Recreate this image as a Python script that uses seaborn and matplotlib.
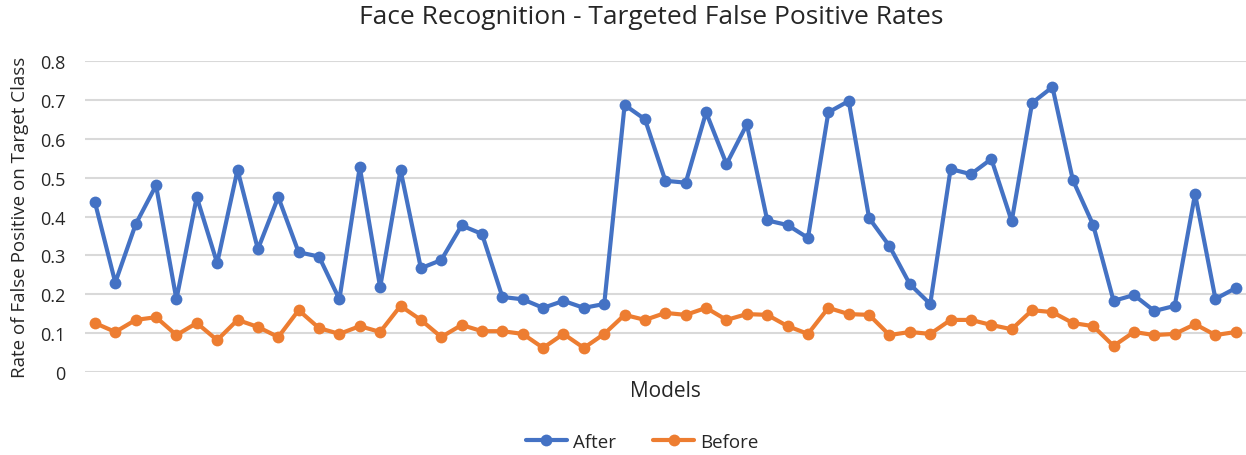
import numpy as np
import pandas as pd
import matplotlib
matplotlib.use("Agg")
import matplotlib.pyplot as plt
import seaborn as sns
from matplotlib.ticker import FuncFormatter

# rates, one per model
after = [0.437, 0.23, 0.38, 0.48, 0.187, 0.45, 0.28, 0.52, 0.316, 0.45,
         0.308, 0.297, 0.187, 0.527, 0.218, 0.52, 0.267, 0.288, 0.377, 0.355,
         0.193, 0.187, 0.165, 0.183, 0.165, 0.175, 0.687, 0.65, 0.492, 0.487,
         0.668, 0.535, 0.637, 0.39, 0.378, 0.345, 0.668, 0.697, 0.396, 0.324,
         0.226, 0.175, 0.522, 0.509, 0.548, 0.388, 0.692, 0.733, 0.494, 0.378,
         0.183, 0.198, 0.157, 0.17, 0.458, 0.188, 0.216]
before = [0.126, 0.103, 0.134, 0.141, 0.095, 0.126, 0.082, 0.134, 0.116, 0.09,
          0.159, 0.113, 0.098, 0.118, 0.103, 0.17, 0.134, 0.09, 0.121, 0.105,
          0.105, 0.098, 0.062, 0.098, 0.062, 0.098, 0.147, 0.134, 0.152, 0.147,
          0.165, 0.134, 0.149, 0.147, 0.118, 0.098, 0.165, 0.149, 0.147, 0.095,
          0.103, 0.098, 0.134, 0.134, 0.121, 0.11, 0.159, 0.154, 0.126, 0.118,
          0.067, 0.103, 0.095, 0.098, 0.123, 0.095, 0.103]
models = list(range(len(after)))

df = pd.DataFrame({"model": models * 2,
                   "rate": after + before,
                   "series": ["After"] * len(after) + ["Before"] * len(before)})

sns.set_style("white")
plt.rcParams["font.family"] = ["Open Sans", "DejaVu Sans"]

fig = plt.figure(figsize=(12.46, 4.56), dpi=100)
ax = fig.add_axes([0.068, 0.182, 0.932, 0.682])

sns.lineplot(data=df, x="model", y="rate", hue="series",
             palette={"After": "#4472C4", "Before": "#ED7D31"},
             marker="o", markersize=8.5, markeredgewidth=0, linewidth=3,
             ax=ax, legend=True)

ax.set_xlim(-0.5, len(after) - 0.5)
ax.set_ylim(0, 0.8)
ax.set_yticks(np.arange(0, 0.81, 0.1))
ax.yaxis.set_major_formatter(FuncFormatter(lambda v, p: "0" if abs(v) < 1e-9 else f"{v:g}"))
ax.set_xticks([])
ax.grid(axis="y", color="#d9d9d9", linewidth=1.5)
ax.set_axisbelow(True)
for s in ax.spines.values():
    s.set_visible(False)
ax.tick_params(axis="y", length=0, labelsize=13, pad=14)

ax.set_xlabel("Models", fontsize=15, labelpad=6)
ax.set_ylabel("Rate of False Positive on Target Class", fontsize=13.5, labelpad=8)
fig.suptitle("Face Recognition - Targeted False Positive Rates", fontsize=19,
             x=0.523, y=0.99)

ax.legend(loc="center", bbox_to_anchor=(0.48, -0.225), ncol=2,
          frameon=False, fontsize=13.5, handlelength=2.2, columnspacing=2.0,
          handletextpad=0.3)

fig.savefig("out.png", dpi=100)
